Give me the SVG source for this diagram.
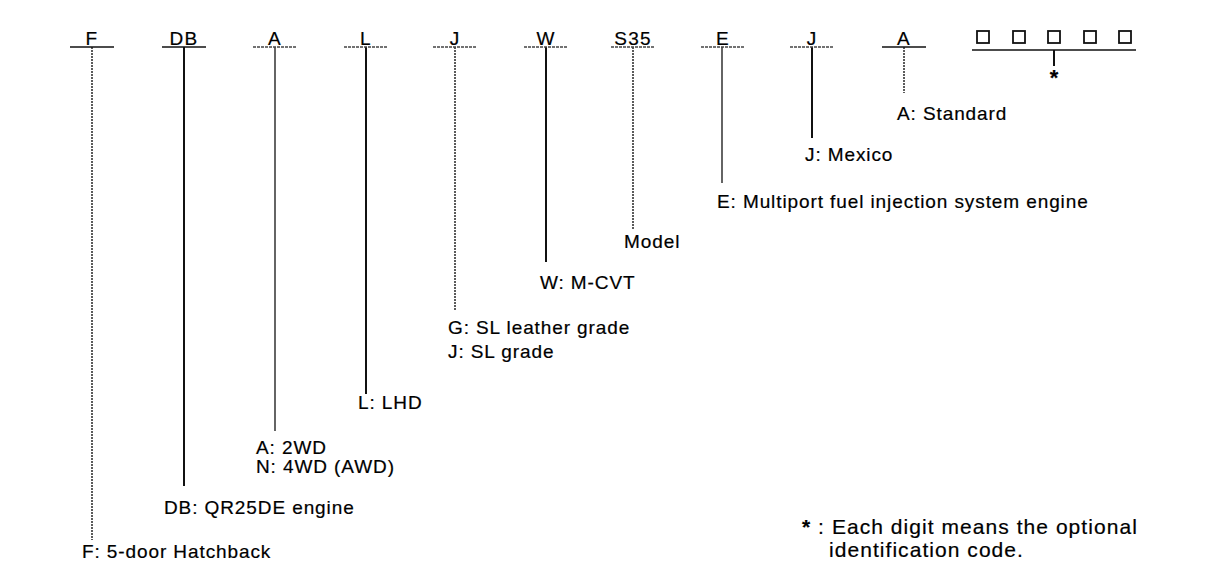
<svg xmlns="http://www.w3.org/2000/svg" width="1216" height="582" viewBox="0 0 1216 582">
<style>
text{font-family:"Liberation Sans",Arial,sans-serif;font-size:19px;letter-spacing:0.9px;fill:#000;stroke:#000;stroke-width:0.2px}
.code{font-size:19px;letter-spacing:1.2px}
.note{font-size:21px;letter-spacing:1.05px}
.u{stroke:#111;stroke-width:1.6;fill:none}
.ud{stroke:#444;stroke-width:1.4;stroke-dasharray:3 1;fill:none}
.v{stroke:#111;stroke-width:1.3;fill:none}
.vt{stroke:#111;stroke-width:2;fill:none}
.vd{stroke:#333;stroke-width:1.6;stroke-dasharray:2 1;fill:none}
.box{stroke:#111;stroke-width:1.8;fill:#fff}
</style>
<rect width="1216" height="582" fill="#fff"/>
<g id="connectors">
<path class="vd" d="M92 47V540"/>
<path class="vt" d="M184 47V486"/>
<path class="v" d="M275 47V431"/>
<path class="vt" d="M366 47V394"/>
<path class="vd" d="M455 47V310"/>
<path class="vt" d="M546 47V262"/>
<path class="vd" d="M633 47V229"/>
<path class="v" d="M722 47V183"/>
<path class="vt" d="M812 47V138"/>
<path class="vd" d="M904 47V93"/>
<path class="vt" d="M1054 50V66"/>
</g>
<g id="n-F"><text class="code" x="92" y="45" text-anchor="middle">F</text><path class="u" d="M70 47H114"/><text x="82" y="558">F: 5-door Hatchback</text></g>
<g id="n-DB"><text class="code" x="184" y="45" text-anchor="middle">DB</text><path class="u" d="M162 47H206"/><text x="164" y="514">DB: QR25DE engine</text></g>
<g id="n-A"><text class="code" x="275" y="45" text-anchor="middle">A</text><path class="ud" d="M253 47H297"/><text x="256" y="454">A: 2WD</text><text x="256" y="473">N: 4WD (AWD)</text></g>
<g id="n-L"><text class="code" x="366" y="45" text-anchor="middle">L</text><path class="ud" d="M344 47H388"/><text x="358" y="409">L: LHD</text></g>
<g id="n-J"><text class="code" x="455" y="45" text-anchor="middle">J</text><path class="ud" d="M433 47H477"/><text x="448" y="334">G: SL leather grade</text><text x="448" y="358">J: SL grade</text></g>
<g id="n-W"><text class="code" x="546" y="45" text-anchor="middle">W</text><path class="ud" d="M524 47H568"/><text x="540" y="289">W: M-CVT</text></g>
<g id="n-S35"><text class="code" x="633" y="45" text-anchor="middle">S35</text><path class="ud" d="M611 47H655"/><text x="624" y="248">Model</text></g>
<g id="n-E"><text class="code" x="723" y="45" text-anchor="middle">E</text><path class="ud" d="M701 47H745"/><text x="717" y="208">E: Multiport fuel injection system engine</text></g>
<g id="n-J2"><text class="code" x="812" y="45" text-anchor="middle">J</text><path class="ud" d="M790 47H834"/><text x="805" y="161">J: Mexico</text></g>
<g id="n-A2"><text class="code" x="904" y="45" text-anchor="middle">A</text><path class="u" d="M882 47H926"/><text x="897" y="120">A: Standard</text></g>
<g id="n-opt">
<rect class="box" x="977" y="31" width="12" height="12"/>
<rect class="box" x="1013" y="31" width="12" height="12"/>
<rect class="box" x="1048" y="31" width="12" height="12"/>
<rect class="box" x="1084" y="31" width="12" height="12"/>
<rect class="box" x="1119" y="31" width="12" height="12"/>
<path class="u" d="M972 50H1136"/>
<text x="1054" y="85" text-anchor="middle" style="font-size:22px;letter-spacing:0;font-weight:bold">*</text>
</g>
<g id="note">
<text class="note" x="802" y="534"><tspan font-weight="bold">*</tspan> : Each digit means the optional</text>
<text class="note" x="829" y="557">identification code.</text>
</g>
</svg>
